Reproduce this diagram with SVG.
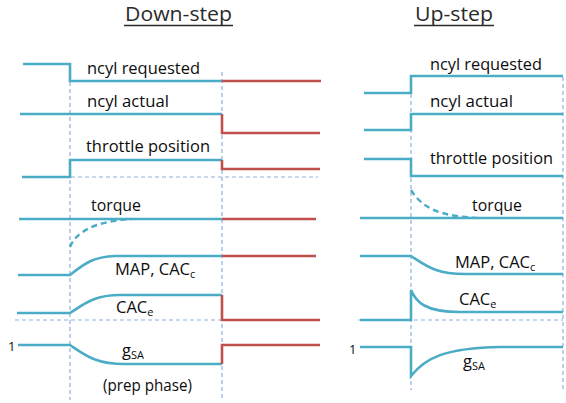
<svg xmlns="http://www.w3.org/2000/svg" width="566" height="403" viewBox="0 0 566 403">
<style>
.bg{fill:#ffffff}
.sig{fill:none;stroke:#4BACC6;stroke-width:2.6;stroke-linejoin:miter}
.red{fill:none;stroke:#C0504D;stroke-width:2.6}
.dsh{fill:none;stroke:#4BACC6;stroke-width:2.4;stroke-dasharray:6 4}
.guide{fill:none;stroke:#8FB0DC;stroke-width:1.2;stroke-dasharray:4 3}
.lbl{font-family:"Open Sans","Liberation Sans",sans-serif;font-size:16.5px;fill:#0d0d0d}
.sub{font-size:11px}
.ttl{font-family:"Open Sans","Liberation Sans",sans-serif;font-size:20px;fill:#2b2b2b}
.one{font-family:"Open Sans","Liberation Sans",sans-serif;font-size:13px;fill:#0d0d0d}
</style>
<rect class="bg" x="0" y="0" width="566" height="403"/>

<g id="titles">
<text class="ttl" x="125" y="21" textLength="107" lengthAdjust="spacingAndGlyphs">Down-step</text>
<line x1="124" y1="25.5" x2="233" y2="25.5" stroke="#2b2b2b" stroke-width="1.5"/>
<text class="ttl" x="415" y="21" textLength="78" lengthAdjust="spacingAndGlyphs">Up-step</text>
<line x1="414" y1="25.5" x2="494" y2="25.5" stroke="#2b2b2b" stroke-width="1.5"/>
</g>

<g id="guides">
<line class="guide" x1="70" y1="82" x2="70" y2="400"/>
<line class="guide" x1="222" y1="72" x2="222" y2="400"/>
<line class="guide" x1="22" y1="177" x2="318" y2="177"/>
<line class="guide" x1="15" y1="320" x2="320" y2="320"/>
<line class="guide" x1="411" y1="94" x2="411" y2="390"/>
<line class="guide" x1="563" y1="77" x2="563" y2="390"/>
<line class="guide" x1="358" y1="320" x2="563" y2="320"/>
</g>

<g id="down-ncyl-requested">
<path class="sig" d="M23,64 L70,64 L70,81 L222,81"/>
<path class="red" d="M222,81 L321,81"/>
<text class="lbl" x="87" y="74" textLength="113" lengthAdjust="spacingAndGlyphs">ncyl requested</text>
</g>
<g id="down-ncyl-actual">
<path class="sig" d="M20,114 L222,114"/>
<path class="red" d="M222,114 L222,133 L320,133"/>
<text class="lbl" x="87" y="107" textLength="82" lengthAdjust="spacingAndGlyphs">ncyl actual</text>
</g>
<g id="down-throttle">
<path class="sig" d="M22,177 L70,177 L70,160 L222,160"/>
<path class="red" d="M222,160 L222,169 L320,169"/>
<text class="lbl" x="86" y="152" textLength="124" lengthAdjust="spacingAndGlyphs">throttle position</text>
</g>
<g id="down-torque">
<path class="sig" d="M19,219 L222,219"/>
<path class="red" d="M222,219 L316,219"/>
<path class="dsh" d="M70,247 C76,232 95,221 132,219"/>
<text class="lbl" x="91" y="211" textLength="50" lengthAdjust="spacingAndGlyphs">torque</text>
</g>
<g id="down-map">
<path class="sig" d="M18,275 L70,275 C82,266 90,257 115,256 L222,256"/>
<path class="red" d="M222,256 L316,256"/>
<text class="lbl" x="115" y="275">MAP, CAC<tspan class="sub" dy="3">c</tspan></text>
</g>
<g id="down-cace">
<path class="sig" d="M17,313 L70,313 C84,304 94,295 120,295 L222,295"/>
<path class="red" d="M222,295 L222,320 L320,320"/>
<text class="lbl" x="116" y="313">CAC<tspan class="sub" dy="3">e</tspan></text>
</g>
<g id="down-gsa">
<text class="one" x="8" y="351">1</text>
<path class="sig" d="M18,345 L70,345 C85,355 95,364 125,364 L222,364"/>
<path class="red" d="M222,364 L222,345 L320,345"/>
<text class="lbl" x="122" y="356">g<tspan class="sub" dy="3">SA</tspan></text>
<text class="lbl" x="103" y="391" font-size="14.5" textLength="89" lengthAdjust="spacingAndGlyphs">(prep phase)</text>
</g>

<g id="up-ncyl-requested">
<path class="sig" d="M364,93 L411,93 L411,76 L563,76"/>
<text class="lbl" x="430" y="70" textLength="112" lengthAdjust="spacingAndGlyphs">ncyl requested</text>
</g>
<g id="up-ncyl-actual">
<path class="sig" d="M364,130 L411,130 L411,114 L563,114"/>
<text class="lbl" x="430" y="107" textLength="83" lengthAdjust="spacingAndGlyphs">ncyl actual</text>
</g>
<g id="up-throttle">
<path class="sig" d="M364,159 L411,159 L411,176 L563,176"/>
<text class="lbl" x="430" y="164" textLength="123" lengthAdjust="spacingAndGlyphs">throttle position</text>
</g>
<g id="up-torque">
<path class="sig" d="M360,218 L563,218"/>
<path class="dsh" d="M411,190 C422,208 440,217 482,218"/>
<text class="lbl" x="472" y="211" textLength="50" lengthAdjust="spacingAndGlyphs">torque</text>
</g>
<g id="up-map">
<path class="sig" d="M360,256 L411,256 C425,265 435,274 465,274 L563,274"/>
<text class="lbl" x="455" y="268">MAP, CAC<tspan class="sub" dy="3">c</tspan></text>
</g>
<g id="up-cace">
<path class="sig" d="M360,320 L411,320 L411,290 C416,302 425,312 460,312 L563,312"/>
<text class="lbl" x="459" y="305">CAC<tspan class="sub" dy="3">e</tspan></text>
</g>
<g id="up-gsa">
<text class="one" x="349" y="354">1</text>
<path class="sig" d="M360,347 L411,347 L411,376 C425,358 445,348 500,347 L563,347"/>
<text class="lbl" x="463" y="367">g<tspan class="sub" dy="3">SA</tspan></text>
</g>
</svg>
